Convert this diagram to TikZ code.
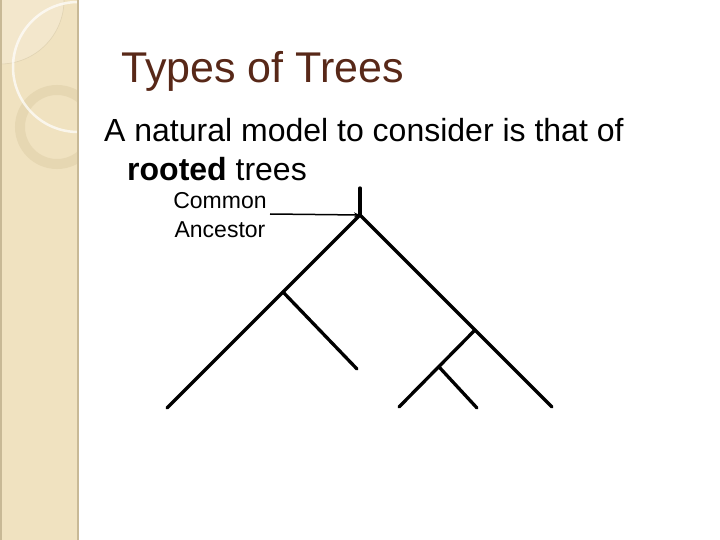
\documentclass[tikz,border=0pt]{standalone}
\usepackage{fontspec}
\setmainfont{Liberation Sans}
\usetikzlibrary{arrows.meta}
\definecolor{band}{RGB}{240,226,192}
\definecolor{bandedge}{RGB}{200,185,150}
\definecolor{ringc}{RGB}{230,215,178}
\definecolor{titlec}{RGB}{88,40,24}
\tikzset{
  branch/.style={line width=3.3pt, line cap=round},
  ptr/.style={line width=1.5pt, -{Stealth[length=6pt,width=5pt]}},
}
\begin{document}
\begin{tikzpicture}[x=1pt,y=-1pt]
\useasboundingbox (0,0) rectangle (720,540);
\fill[white] (0,0) rectangle (720,540);
% sidebar
\begin{scope}
\clip (0,0) rectangle (78,540);
\fill[band] (0,0) rectangle (78,540);
\fill[white,opacity=0.2] (0,0) circle (64);
\draw[bandedge,opacity=0.4,line width=0.6pt] (0,0) circle (64);
\draw[ringc,line width=10pt] (57,127) circle (37);
\draw[white,opacity=0.7,line width=2.5pt] (78,67) circle (65);
\end{scope}
\draw[bandedge,line width=2pt] (78,0) -- (78,540);
\draw[bandedge,line width=1.5pt] (0.75,0) -- (0.75,540);
% texts
\node[anchor=base west,text=titlec,font=\fontsize{43}{48}\selectfont,inner sep=0] (title) at (121,83) {Types of Trees};
\node[anchor=base west,font=\fontsize{32}{36}\selectfont,inner sep=0] (line1) at (104,142) {A natural model to consider is that of};
\node[anchor=base west,font=\fontsize{32}{36}\selectfont,inner sep=0] (line2) at (127,181) {\textbf{rooted} trees};
\node[anchor=base,align=center,font=\fontsize{23}{29}\selectfont,inner sep=0] (anc) at (220,237) {Common\\Ancestor};
% tree
\coordinate (top) at (360,188);
\coordinate (root) at (360,215);
\coordinate (l) at (167,408);
\coordinate (li) at (283,292);
\coordinate (lr) at (357,369);
\coordinate (r) at (552,407);
\coordinate (ri) at (475,330);
\coordinate (rl) at (399,407);
\coordinate (rs) at (440,368);
\coordinate (rsr) at (477,408);
\coordinate (arrs) at (270,214);
\draw[branch] (top) -- (root);
\draw[branch] (l) -- (root) -- (r);
\draw[branch] (li) -- (lr);
\draw[branch] (ri) -- (rl);
\draw[branch] (rs) -- (rsr);
\draw[ptr] (arrs) -- (root);
\end{tikzpicture}
\end{document}
